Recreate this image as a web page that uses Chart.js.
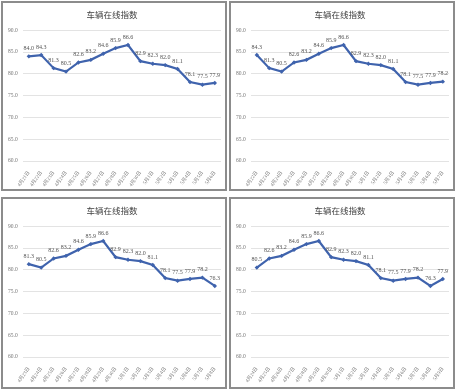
<!DOCTYPE html>
<html>
<head>
<meta charset="utf-8">
<script src="https://cdn.jsdelivr.net/npm/chart.js@4"></script>
<style>
body{margin:0;background:#fff;}
.panel{position:absolute;box-sizing:border-box;border:2px solid #8c8c8c;background:#fff;}
.panel canvas{position:absolute;left:0;top:0;}
</style>
</head>
<body>
<div class="panel" style="left:1px;top:1px;width:226px;height:190px;"><canvas id="c0" width="222" height="186"></canvas></div>
<div class="panel" style="left:229px;top:1px;width:226px;height:190px;"><canvas id="c1" width="222" height="186"></canvas></div>
<div class="panel" style="left:1px;top:197px;width:226px;height:192px;"><canvas id="c2" width="222" height="188"></canvas></div>
<div class="panel" style="left:229px;top:197px;width:226px;height:192px;"><canvas id="c3" width="222" height="188"></canvas></div>
<script>
// daily values, 4/21 .. 5/9
const dates = [
"4月21日","4月22日","4月23日","4月24日","4月25日","4月26日","4月27日",
"4月28日","4月29日","4月30日","5月1日","5月2日","5月3日","5月4日",
"5月5日","5月6日","5月7日","5月8日","5月9日"
];
const onlineIndex = [
84.0,84.3,81.3,80.5,82.6,83.2,84.6,85.9,86.6,82.9,
82.3,82.0,81.1,78.1,77.5,77.9,78.2,76.3,77.9
];
// each panel shows 16 days, starting one day later than the previous
const panelStart = [0,1,2,3];
const windowLen = 16;
const yTicks = [60,65,70,75,80,85,90];

const titleText = "车辆在线指数";
const lineColor = "#3f63ad";
const numFont = "'Liberation Serif','Noto Sans CJK SC'";

const valueLabels = {
    id:"valueLabels",
    afterDatasetsDraw(chart){
        const ctx = chart.ctx;
        const meta = chart.getDatasetMeta(0);
        const data = chart.data.datasets[0].data;
        ctx.save();
        ctx.font = "6px " + numFont;
        ctx.fillStyle = "#555";
        ctx.textAlign = "center";
        ctx.textBaseline = "bottom";
        meta.data.forEach((pt,i)=>{
            ctx.fillText(data[i].toFixed(1), pt.x, pt.y - 5);
        });
        ctx.restore();
    }
};

panelStart.forEach((start,k)=>{

    const labels = dates.slice(start, start + windowLen);
    const values = onlineIndex.slice(start, start + windowLen);
    const canvas = document.getElementById("c" + k);
    // x axis band: plot bottom sits 158px down the canvas
    const xBand = canvas.height - 158 - 1;

    new Chart(
    canvas,
    {
        type:"line",
        data:{
            labels,
            datasets:[{
                data:values,
                borderColor:lineColor,
                backgroundColor:lineColor,
                borderWidth:2.2,
                pointStyle:"rectRot",
                pointRadius:2.2,
                pointBorderWidth:0,
                tension:0
            }]
        },
        options:{
            responsive:false,
            animation:false,
            layout:{padding:{left:0,right:4,top:3,bottom:1}},
            plugins:{
                legend:{display:false},
                tooltip:{enabled:false},
                title:{
                    display:true,
                    text:titleText,
                    color:"#404040",
                    font:{family:"'Noto Sans CJK SC'",size:8.5,weight:"normal"},
                    padding:{top:4,bottom:10}
                }
            },
            scales:{
                x:{
                    offset:true,
                    grid:{display:false},
                    border:{display:false},
                    afterFit(axis){
                        axis.height = xBand;
                    },
                    ticks:{
                        color:"#777",
                        font:{family:numFont,size:5},
                        minRotation:55,
                        maxRotation:55,
                        autoSkip:false,
                        padding:1
                    }
                },
                y:{
                    min:60,
                    max:90,
                    afterBuildTicks(axis){
                        axis.ticks = yTicks.map(v=>({value:v}));
                    },
                    grid:{color:"#e3e3e3",drawTicks:false,lineWidth:1},
                    border:{display:false},
                    ticks:{
                        color:"#777",
                        font:{family:numFont,size:5.5},
                        padding:5,
                        callback:v=>Number(v).toFixed(1)
                    }
                }
            }
        },
        plugins:[valueLabels]
    });
});
</script>
</body>
</html>
